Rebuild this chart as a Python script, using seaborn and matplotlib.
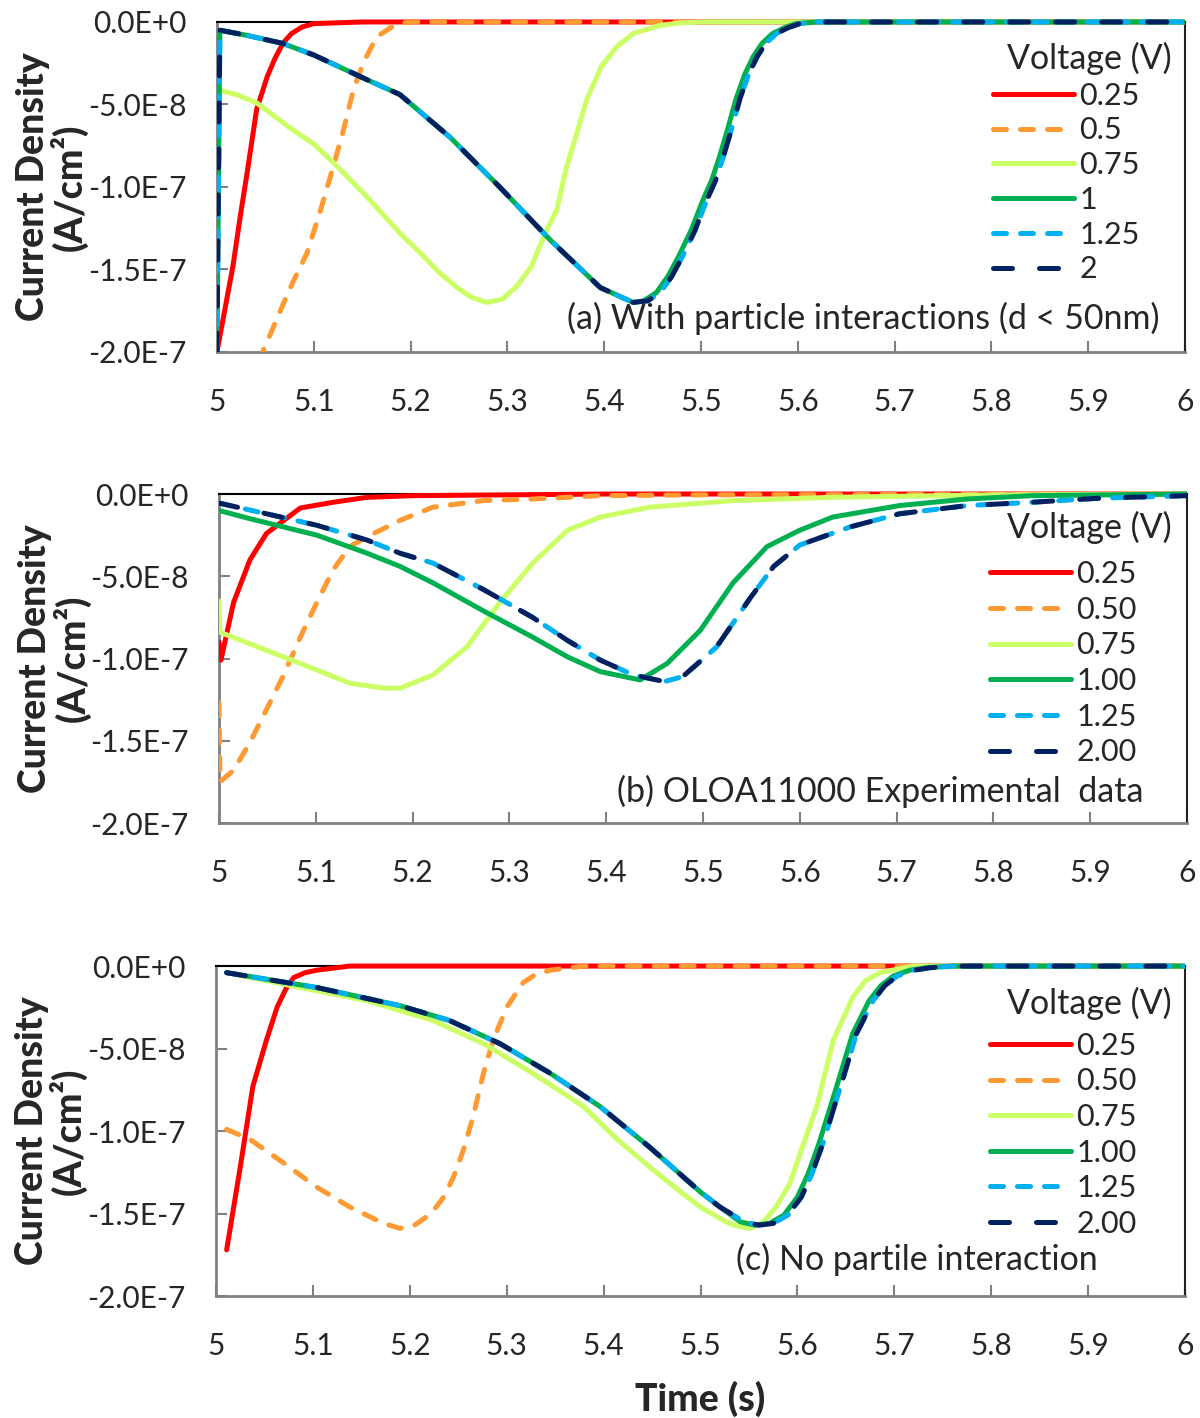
import numpy as np
import pandas as pd
import matplotlib
matplotlib.use("Agg")
import matplotlib.pyplot as plt
import seaborn as sns
from matplotlib.ticker import FuncFormatter
from matplotlib.transforms import Bbox, TransformedBbox

# current density values are in units of 1e-8 A/cm2
SCALE = 1e-8

# (a) with particle interactions
a_t_025 = [5.0, 5.0165, 5.024, 5.031, 5.041, 5.052, 5.06, 5.068, 5.077, 5.088, 5.1, 5.15, 6.0]
a_j_025 = [-20, -14.8, -11.8, -9.2, -5.3, -3.3, -2.2, -1.3, -0.7, -0.3, -0.1, 0, 0]
a_t_050 = [5.03, 5.048, 5.075, 5.093, 5.106, 5.12, 5.13, 5.141, 5.151, 5.165, 5.182,
           5.19, 5.2, 5.25, 6.0]
a_j_050 = [-22, -19.9, -16.2, -14.0, -11.6, -8.8, -6.7, -4.1, -2.5, -0.9, -0.25,
           -0.08, 0, 0, 0]
a_t_075 = [5.0, 5.02, 5.041, 5.075, 5.1, 5.12, 5.155, 5.189, 5.21, 5.23, 5.248, 5.263,
           5.279, 5.295, 5.31, 5.325, 5.339, 5.351, 5.361, 5.372, 5.382, 5.397, 5.413,
           5.43, 5.458, 5.48, 5.5, 6.0]
a_j_075 = [-4.1, -4.4, -4.9, -6.4, -7.4, -8.5, -10.6, -12.8, -14.0, -15.2, -16.1, -16.7,
           -17.0, -16.8, -16.0, -14.8, -12.8, -11.4, -8.8, -6.7, -4.7, -2.7, -1.5,
           -0.7, -0.2, -0.05, 0, 0]
a_t_100 = [5.0, 5.003, 5.03, 5.068, 5.1, 5.155, 5.189, 5.241, 5.292, 5.344, 5.396,
           5.43, 5.441, 5.454, 5.466, 5.477, 5.49, 5.502, 5.511, 5.519, 5.528, 5.536,
           5.545, 5.554, 5.563, 5.574, 5.586, 5.598, 5.62, 6.0]
a_j_100 = [-20, -0.5, -0.8, -1.3, -2.0, -3.5, -4.4, -7.0, -10.0, -13.2, -16.1,
           -17.0, -16.9, -16.4, -15.4, -14.2, -12.6, -10.8, -9.6, -8.2, -6.4, -4.7,
           -3.2, -2.1, -1.3, -0.7, -0.35, -0.1, 0, 0]
a_t_hi = [5.0, 5.003, 5.03, 5.068, 5.1, 5.155, 5.189, 5.241, 5.292, 5.344, 5.396,
          5.43, 5.445, 5.458, 5.47, 5.481, 5.494, 5.506, 5.515, 5.523, 5.532, 5.54,
          5.549, 5.558, 5.567, 5.578, 5.59, 5.602, 5.62, 6.0]
a_j_hi = [-20, -0.5, -0.8, -1.3, -2.0, -3.5, -4.4, -7.0, -10.0, -13.2, -16.1,
          -17.0, -16.9, -16.4, -15.4, -14.2, -12.6, -10.8, -9.6, -8.2, -6.4, -4.7,
          -3.2, -2.1, -1.3, -0.7, -0.35, -0.1, 0, 0]

# (b) OLOA11000 experimental data
b_t_025 = [5.0, 5.002, 5.015, 5.032, 5.049, 5.084, 5.118, 5.153, 5.2, 5.3, 5.4, 6.0]
b_j_025 = [-9.0, -10.1, -6.6, -4.0, -2.4, -0.85, -0.5, -0.2, -0.1, -0.05, 0, 0]
b_t_050 = [5.0, 5.001, 5.015, 5.032, 5.049, 5.066, 5.084, 5.101, 5.118, 5.135, 5.153,
           5.187, 5.221, 5.273, 5.324, 5.394, 5.5, 6.0]
b_j_050 = [-12.7, -17.5, -16.8, -15.1, -13.1, -11.1, -8.7, -6.6, -4.6, -3.2, -2.6,
           -1.6, -0.8, -0.4, -0.3, -0.1, -0.05, 0]
b_t_075 = [5.0, 5.001, 5.049, 5.084, 5.135, 5.17, 5.187, 5.221, 5.256, 5.29, 5.324,
           5.36, 5.394, 5.445, 5.531, 5.634, 5.8, 6.0]
b_j_075 = [-6.5, -8.4, -9.5, -10.3, -11.5, -11.8, -11.8, -11.0, -9.3, -6.6, -4.2,
           -2.2, -1.4, -0.8, -0.4, -0.2, -0.05, 0]
b_t_100 = [5.0, 5.032, 5.101, 5.153, 5.187, 5.221, 5.273, 5.324, 5.36, 5.394, 5.435,
           5.463, 5.497, 5.531, 5.566, 5.6, 5.634, 5.703, 5.773, 5.84, 6.0]
b_j_100 = [-1.0, -1.5, -2.5, -3.6, -4.4, -5.4, -7.1, -8.7, -9.9, -10.8, -11.3,
           -10.3, -8.3, -5.4, -3.2, -2.2, -1.4, -0.7, -0.3, -0.1, 0]
b_t_hi = [5.0, 5.049, 5.101, 5.153, 5.187, 5.221, 5.273, 5.324, 5.36, 5.394, 5.428,
          5.46, 5.479, 5.514, 5.549, 5.573, 5.6, 5.652, 5.703, 5.773, 5.84, 5.91, 6.0]
b_j_hi = [-0.55, -1.2, -1.9, -2.8, -3.6, -4.2, -5.8, -7.5, -8.9, -10.1, -11.0,
          -11.4, -11.1, -9.3, -6.3, -4.4, -3.1, -2.0, -1.2, -0.7, -0.5, -0.25, -0.1]

# (c) no particle interaction
c_t_025 = [5.011, 5.025, 5.038, 5.052, 5.063, 5.072, 5.08, 5.092, 5.104, 5.138, 6.0]
c_j_025 = [-17.2, -12.2, -7.3, -4.5, -2.5, -1.4, -0.7, -0.4, -0.25, 0, 0]
c_t_050 = [5.011, 5.035, 5.069, 5.104, 5.138, 5.173, 5.19, 5.205, 5.222, 5.235, 5.245,
           5.255, 5.265, 5.276, 5.286, 5.3, 5.317, 5.33, 5.345, 5.379, 6.0]
c_j_050 = [-9.9, -10.5, -11.9, -13.4, -14.6, -15.6, -15.9, -15.7, -15.0, -14.0, -12.8,
           -11.2, -9.2, -6.5, -4.5, -2.5, -1.0, -0.5, -0.25, 0, 0]
c_t_075 = [5.011, 5.087, 5.156, 5.224, 5.276, 5.327, 5.379, 5.414, 5.45, 5.482, 5.5,
           5.52, 5.534, 5.551, 5.565, 5.578, 5.592, 5.605, 5.62, 5.637, 5.657, 5.67,
           5.685, 5.72, 6.0]
c_j_075 = [-0.4, -1.3, -2.1, -3.3, -4.7, -6.5, -8.5, -10.5, -12.3, -13.8, -14.6,
           -15.3, -15.7, -15.9, -15.5, -14.6, -13.2, -11.0, -8.5, -4.5, -1.9, -0.9,
           -0.4, 0, 0]
c_t_100 = [5.011, 5.104, 5.19, 5.241, 5.293, 5.345, 5.396, 5.448, 5.5, 5.52, 5.541,
           5.556, 5.571, 5.586, 5.6, 5.611, 5.622, 5.64, 5.657, 5.674, 5.686, 5.699,
           5.716, 5.733, 5.76, 6.0]
c_j_100 = [-0.4, -1.3, -2.4, -3.3, -4.7, -6.5, -8.5, -11.0, -13.7, -14.6, -15.5,
           -15.7, -15.6, -15.1, -14.0, -12.6, -10.8, -7.4, -4.1, -2.1, -1.2, -0.6,
           -0.25, -0.1, 0, 0]
c_t_hi = [5.011, 5.104, 5.19, 5.241, 5.293, 5.345, 5.396, 5.448, 5.5, 5.52, 5.545,
          5.56, 5.575, 5.59, 5.604, 5.615, 5.626, 5.644, 5.661, 5.678, 5.69, 5.703,
          5.72, 5.737, 5.76, 6.0]
c_j_hi = [-0.4, -1.3, -2.4, -3.3, -4.7, -6.5, -8.5, -11.0, -13.7, -14.6, -15.5,
          -15.7, -15.6, -15.1, -14.0, -12.6, -10.8, -7.4, -4.1, -2.1, -1.2, -0.6,
          -0.25, -0.1, 0, 0]

labels_a = ["0.25", "0.5", "0.75", "1", "1.25", "2"]
labels_bc = ["0.25", "0.50", "0.75", "1.00", "1.25", "2.00"]
captions = ["(a) With particle interactions (d < 50nm)",
            "(b) OLOA11000 Experimental  data",
            "(c) No partile interaction"]
x_ticks = [5, 5.1, 5.2, 5.3, 5.4, 5.5, 5.6, 5.7, 5.8, 5.9, 6]
y_ticks = [0, -5e-8, -1e-7, -1.5e-7, -2e-7]
y_ticklabels = ["0.0E+0", "-5.0E-8", "-1.0E-7", "-1.5E-7", "-2.0E-7"]

colors = ["#FF0000", "#FF9A33", "#CCFF66", "#00B050", "#00B0F0", "#002060"]
dashes = [None, (2.6, 2.8), None, None, (2.6, 2.8), (3.8, 5.4)]

panels = [
    ([(a_t_025, a_j_025), (a_t_050, a_j_050), (a_t_075, a_j_075),
      (a_t_100, a_j_100), (a_t_hi, a_j_hi), (a_t_hi, a_j_hi)], labels_a),
    ([(b_t_025, b_j_025), (b_t_050, b_j_050), (b_t_075, b_j_075),
      (b_t_100, b_j_100), (b_t_hi, b_j_hi), (b_t_hi, b_j_hi)], labels_bc),
    ([(c_t_025, c_j_025), (c_t_050, c_j_050), (c_t_075, c_j_075),
      (c_t_100, c_j_100), (c_t_hi, c_j_hi), (c_t_hi, c_j_hi)], labels_bc),
]

sns.set_theme(style="white")
plt.rcParams["font.family"] = ["Lato", "DejaVu Sans"]

fig = plt.figure(figsize=(12, 14.18), dpi=100)
boxes = [[0.1808, 0.7518, 0.8067, 0.2327],
         [0.1825, 0.4196, 0.8067, 0.2320],
         [0.1800, 0.0860, 0.8075, 0.2327]]
caption_pos = [(0.974, 0.103), (0.955, 0.097), (0.910, 0.112)]
legend_pos = [(0.8017, 0.5136), (0.7965, 0.486), (0.7988, 0.489)]
legend_spacing = [0.22, 0.25, 0.25]
title_pos = [(0.9866, 0.891), (0.9845, 0.897), (0.9866, 0.888)]

for i, (series, labels) in enumerate(panels):
    ax = fig.add_axes(boxes[i])
    for (t, j), label, color, dash in zip(series, labels, colors, dashes):
        df = pd.DataFrame({"Time": t, "J": np.array(j) * SCALE})
        sns.lineplot(data=df, x="Time", y="J", ax=ax, color=color, lw=3.6,
                     estimator=None, sort=False, label=label, zorder=3)
        line = ax.lines[-1]
        if dash is not None:
            line.set_dashes(dash)
        line.set_dash_capstyle("round")
        line.set_solid_capstyle("round")
        line.set_solid_joinstyle("round")
        line.set_clip_path(None)
        line.set_clip_box(TransformedBbox(Bbox([[0, 0], [1, 1.02]]), ax.transAxes))

    ax.set_xlim(5, 6)
    ax.set_ylim(-2e-7, 0)
    ax.set_xticks(x_ticks)
    ax.xaxis.set_major_formatter(FuncFormatter(lambda v, p: f"{v:g}"))
    ax.set_yticks(y_ticks)
    ax.set_yticklabels(y_ticklabels)
    ax.tick_params(axis="x", direction="in", length=8, width=1.5, color="#808080",
                   pad=26, labelsize=21.5, bottom=True)
    ax.tick_params(axis="y", direction="in", length=8, width=1.5, color="#808080",
                   pad=22, labelsize=21.5, left=True)
    for side in ["left", "bottom"]:
        ax.spines[side].set_color("#808080")
        ax.spines[side].set_linewidth(2)
    ax.spines["top"].set_color("black")
    ax.spines["top"].set_linewidth(1.5)
    ax.spines["right"].set_color("#222222")
    ax.spines["right"].set_linewidth(1.5)

    ax.set_ylabel("Current Density\n(A/cm²)", fontsize=27, fontweight=900,
                  linespacing=1.0)
    ax.yaxis.set_label_coords(-0.133, 0.5)
    if i == 2:
        ax.set_xlabel("Time (s)", fontsize=27, fontweight=900)
        ax.xaxis.set_label_coords(0.5, -0.255)
    else:
        ax.set_xlabel("")

    ax.legend(loc="center left", bbox_to_anchor=legend_pos[i], frameon=False,
              fontsize=22, handlelength=2.65, handletextpad=0.17,
              labelspacing=legend_spacing[i], borderaxespad=0, borderpad=0)
    tx, ty = title_pos[i]
    ax.text(tx, ty, "Voltage (V)", transform=ax.transAxes, ha="right", va="center",
            fontsize=24.5)

    cx, cy = caption_pos[i]
    ax.text(cx, cy, captions[i], transform=ax.transAxes, ha="right", va="center",
            fontsize=24.5)

fig.savefig("out.png", dpi=100)
